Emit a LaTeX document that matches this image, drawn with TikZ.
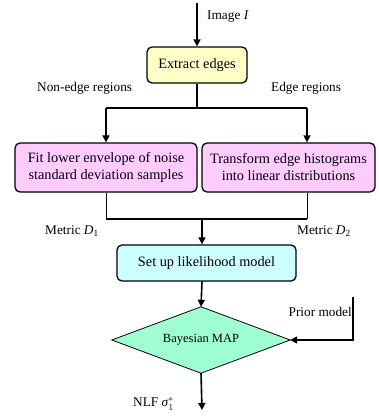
\documentclass[tikz,border=0pt]{standalone}
\usepackage{fontspec}
\setmainfont{Liberation Serif}
\usepackage{xcolor}
\usepackage{tikz}
\usetikzlibrary{shapes.geometric, arrows.meta, positioning}

\definecolor{edgeyellow}{RGB}{255,255,200}
\definecolor{stepviolet}{RGB}{255,204,255}
\definecolor{likecyan}{RGB}{204,255,255}
\definecolor{mapgreen}{RGB}{160,255,210}

\begin{document}
\begin{tikzpicture}[
  x=1pt, y=-1pt,
  box/.style={rectangle, rounded corners=5pt, draw=black, line width=1.3pt,
              align=center, inner sep=0pt, font=\fontsize{14.3}{17}\selectfont},
  decision/.style={diamond, draw=none, fill=mapgreen, inner sep=0pt,
                   font=\fontsize{12.5}{14}\selectfont},
  lbl/.style={font=\fontsize{13.3}{15}\selectfont, inner sep=0pt},
  arrow/.style={-{Triangle[length=7pt, width=7pt]}, line width=1.6pt},
  link/.style={line width=1.6pt},
  thin link/.style={line width=0.8pt}
]
\useasboundingbox (0,0) rectangle (378,417);

% Input
\coordinate (in) at (197,3);
\node[lbl, anchor=west] (img) at (207,17) {Image \textit{I}};

% Edge extraction
\node[box, fill=edgeyellow, minimum width=100pt, minimum height=36pt] (ee)
      at (197,65) {Extract edges};
\coordinate (split) at (197,108);
\coordinate (sl) at (106,108);
\coordinate (sr) at (307,108);
\node[lbl, anchor=west] (ne) at (37,88) {Non-edge regions};
\node[lbl, anchor=west] (er) at (271,88) {Edge regions};

% Two branches
\node[box, fill=stepviolet, minimum width=182pt, minimum height=49pt] (fit)
      at (106,167.5) {Fit lower envelope of noise\\standard deviation samples};
\node[box, fill=stepviolet, minimum width=173pt, minimum height=49pt] (tr)
      at (288.5,167.5) {Transform edge histograms\\into linear distributions};
\coordinate (jl) at (106,219);
\coordinate (jr) at (307,219);
\coordinate (join) at (202,219);
\node[lbl, anchor=west] (m1) at (45,231) {Metric \textit{D}\textsubscript{1}};
\node[lbl, anchor=west] (m2) at (297,231) {Metric \textit{D}\textsubscript{2}};

% Likelihood
\node[box, fill=likecyan, minimum width=179pt, minimum height=36pt] (lm)
      at (206.5,263) {Set up likelihood model};

% Bayesian MAP
\node[decision, minimum width=178pt, minimum height=66pt, aspect=2.7] (map)
      at (201,340) {Bayesian MAP};
\draw[line width=0.8pt] (map.north) -- (map.east) -- (map.south) -- (map.west) -- cycle;
\coordinate (prior) at (353,297);
\node[lbl, anchor=east] (pm) at (352,312) {Prior model};

% Output
\coordinate (out) at (202,410);
\node[lbl, anchor=west] (nlf) at (133,404) {NLF \textit{σ}$^{*}_{1}$};

% Arrows
\draw[arrow] (in) -- (ee);
\draw[link] (ee) -- (split);
\draw[link] (sl) -- (sr);
\draw[arrow] (sl) -- (fit.north -| sl);
\draw[arrow] (sr) -- (tr.north -| sr);
\draw[thin link] (fit.south -| jl) -- (jl);
\draw[thin link] (tr.south -| jr) -- (jr);
\draw[link] (jl) -- (jr);
\draw[arrow] (join) -- (lm.north -| join);
\draw[arrow] (lm.south -| join) -- (map.north);
\draw[arrow] (prior) |- (map.east);
\draw[arrow] (map.south) -- (out);
\end{tikzpicture}
\end{document}
